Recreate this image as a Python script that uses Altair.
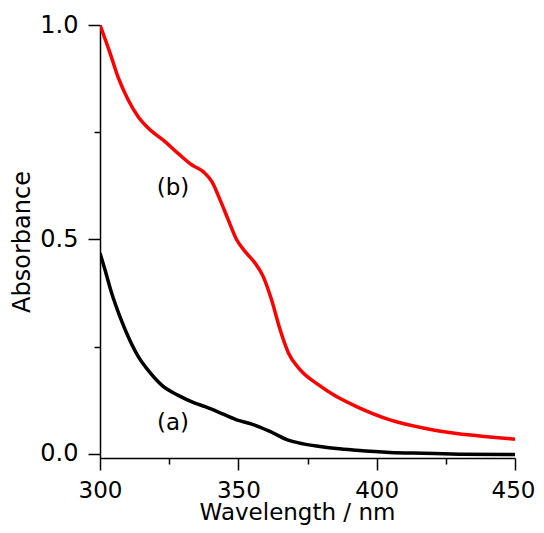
import altair as alt
import pandas as pd

# Spectrum (b) - red
wl_b = [300, 303.6, 306.6, 310.2, 313.8, 317.5, 323.5, 328.3, 333.1, 337.3,
        340.4, 343.4, 346.4, 349.4, 352.4, 356.0, 359.0, 362.0, 365.1, 368.1,
        372.3, 378.9, 385.0, 392.7, 404.8, 416.8, 428.9, 440.9, 450]
abs_b = [1.000, 0.935, 0.877, 0.825, 0.786, 0.759, 0.728, 0.700, 0.674, 0.658,
         0.635, 0.592, 0.545, 0.499, 0.472, 0.445, 0.413, 0.359, 0.289, 0.235,
         0.196, 0.161, 0.135, 0.110, 0.079, 0.060, 0.047, 0.039, 0.034]

# Spectrum (a) - black
wl_a = [300, 301.8, 304.2, 307.2, 310.2, 313.8, 318.1, 322.3, 328.3, 334.3,
        338.0, 342.2, 349.4, 355.4, 361.4, 367.5, 373.5, 379.5, 385.5, 392.7,
        404.8, 416.8, 430.0, 450]
abs_a = [0.468, 0.429, 0.375, 0.320, 0.273, 0.227, 0.189, 0.160, 0.136, 0.118,
         0.110, 0.099, 0.079, 0.068, 0.052, 0.033, 0.023, 0.017, 0.012, 0.008,
         0.003, 0.001, -0.001, -0.002]

label_text = ["(b)", "(a)"]
label_wl = [326.4, 326.4]
label_abs = [0.62, 0.072]

x_ticks = [300, 325, 350, 375, 400, 425, 450]
y_ticks = [0, 0.25, 0.5, 0.75, 1.0]

df_b = pd.DataFrame({"wl": wl_b, "A": abs_b, "s": "b"})
df_a = pd.DataFrame({"wl": wl_a, "A": abs_a, "s": "a"})
df = pd.concat([df_a, df_b], ignore_index=True)
df_lab = pd.DataFrame({"wl": label_wl, "A": label_abs, "t": label_text})

FONT = "DejaVu Sans"

xscale = alt.Scale(domain=[300, 450], nice=False, zero=False)
yscale = alt.Scale(domain=[-0.01, 1.0], nice=False, zero=False)

xaxis = alt.Axis(
    values=x_ticks,
    title="Wavelength / nm",
    labelExpr="datum.value % 50 === 0 ? datum.label : ''",
    tickSize=alt.condition("datum.value % 50 === 0", alt.value(12), alt.value(6)),
    labelOffset=alt.condition("datum.value === 450", alt.value(-2), alt.value(0)),
    grid=False,
    labelFont=FONT, labelFontSize=23, labelColor="black", labelPadding=9,
    titleFont=FONT, titleFontSize=23, titleFontWeight="normal", titleColor="black",
    titleX=197, titleY=61, titleBaseline="alphabetic",
    domainColor="black", domainWidth=1.5, tickColor="black", tickWidth=1.5,
    labelFlush=False, labelOverlap=False,
)
yaxis = alt.Axis(
    values=y_ticks,
    title="Absorbance",
    labelExpr="datum.value % 0.5 === 0 ? format(datum.value, '.1f') : ''",
    tickSize=alt.condition("datum.value % 0.5 === 0", alt.value(12), alt.value(6)),
    grid=False,
    labelFont=FONT, labelFontSize=24, labelColor="black", labelPadding=10,
    titleFont=FONT, titleFontSize=24, titleFontWeight="normal", titleColor="black",
    titleX=-78, titleY=216.5, titleBaseline="middle", titleAlign="center",
    domainColor="black", domainWidth=1.5, tickColor="black", tickWidth=1.5,
    labelFlush=False, labelOverlap=False,
)

lines = alt.Chart(df).mark_line(strokeWidth=3.5, interpolate="monotone", clip=True).encode(
    x=alt.X("wl:Q", scale=xscale, axis=xaxis),
    y=alt.Y("A:Q", scale=yscale, axis=yaxis),
    color=alt.Color("s:N", scale=alt.Scale(domain=["a", "b"], range=["#000000", "#ff0000"]), legend=None),
    detail="s:N",
)

labels = alt.Chart(df_lab).mark_text(font=FONT, fontSize=23, color="black", align="center", baseline="middle").encode(
    x=alt.X("wl:Q", scale=xscale),
    y=alt.Y("A:Q", scale=yscale),
    text="t:N",
)

chart = alt.layer(lines, labels).properties(
    width=415, height=433,
    autosize=alt.AutoSizeParams(type="none"),
    padding={"left": 92, "top": 17, "right": 21, "bottom": 67},
).configure_view(stroke=None)

chart.save("out.html", embed_options={"renderer": "svg", "actions": False})
